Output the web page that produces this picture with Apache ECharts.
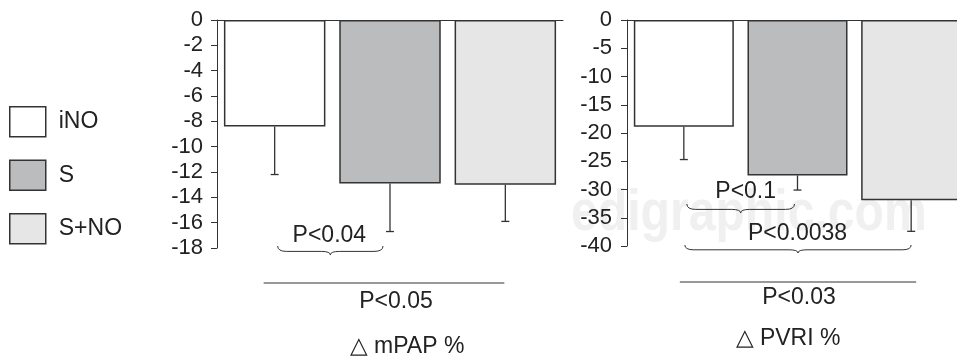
<!DOCTYPE html>
<html>
<head>
<meta charset="utf-8">
<script src="https://cdn.jsdelivr.net/npm/echarts@6/dist/echarts.min.js"></script>
<style>
  html, body { margin: 0; padding: 0; background: #fff; overflow: hidden; }
  /* a little wider than the window: the right panel runs off the edge in the original */
  #chart { width: 980px; height: 358px; }
</style>
</head>
<body>
<div id="chart"></div>
<script>
// --- data ---
const groups = ['iNO', 'S', 'S+NO'];

const mpapMean = [-8.4, -12.9, -13.0];
const mpapErr = [-12.2, -16.7, -15.9];
const mpapAxis = [-18, 0, 2]; // min, max, step
const mpapP = ['P<0.04', 'P<0.05'];
const mpapTitle = '\u25B3 mPAP %';

const pvriMean = [-18.9, -27.5, -31.9];
const pvriErr = [-24.7, -30.1, -37.4];
const pvriAxis = [-40, 0, 5];
const pvriP = ['P<0.1', 'P<0.0038', 'P<0.03'];
const pvriTitle = '\u25B3 PVRI %';

const watermark = 'edigraphic.com';

// --- style ---
const FONT = '"Liberation Sans", Arial, Helvetica, sans-serif';
const INK = '#333';
const TEXT = '#222';
const barColors = ['#ffffff', '#bbbcbe', '#e6e6e6'];

const chart = echarts.init(document.getElementById('chart'), null, { renderer: 'canvas' });

function xAxisFor(gridIndex) {
  return {
    type: 'category',
    gridIndex,
    position: 'top',
    data: groups,
    axisLine: { lineStyle: { color: INK, width: 1 } },
    axisTick: { alignWithLabel: true, length: 6, lineStyle: { color: INK } },
    axisLabel: { show: false },
    splitLine: { show: false },
  };
}

function yAxisFor(gridIndex, range, margin) {
  return {
    type: 'value',
    gridIndex,
    min: range[0],
    max: range[1],
    interval: range[2],
    axisLine: { show: true, lineStyle: { color: INK, width: 1 } },
    axisTick: { show: true, length: 6, lineStyle: { color: INK } },
    axisLabel: { color: TEXT, fontSize: 22, fontFamily: FONT, margin },
    splitLine: { show: false },
  };
}

function barSeries(gridIndex, means) {
  return groups.map((name, i) => ({
    name,
    type: 'bar',
    xAxisIndex: gridIndex,
    yAxisIndex: gridIndex,
    stack: 'grid' + gridIndex,
    barCategoryGap: '12%',
    data: groups.map((_, j) => (j === i ? means[j] : '-')),
    itemStyle: { color: barColors[i], borderColor: INK, borderWidth: 1.5 },
    emphasis: { disabled: true },
    z: 2,
  }));
}

function errorItem(params, api) {
  const top = api.coord([api.value(0), api.value(1)]);
  const end = api.coord([api.value(0), api.value(2)]);
  const style = { stroke: INK, lineWidth: 1.3 };
  return {
    type: 'group',
    children: [
      { type: 'line', shape: { x1: top[0], y1: top[1], x2: end[0], y2: end[1] }, style },
      { type: 'line', shape: { x1: end[0] - 4, y1: end[1], x2: end[0] + 4, y2: end[1] }, style },
    ],
  };
}

function errorSeries(gridIndex, means, errs) {
  return {
    type: 'custom',
    xAxisIndex: gridIndex,
    yAxisIndex: gridIndex,
    renderItem: errorItem,
    encode: { x: 0, y: [1, 2] },
    data: groups.map((_, i) => [i, means[i], errs[i]]),
    clip: false,
    silent: true,
    z: 3,
  };
}

chart.setOption({
  animation: false,
  backgroundColor: '#fff',
  textStyle: { fontFamily: FONT },
  legend: {
    orient: 'vertical',
    left: 9,
    top: 106,
    padding: 0,
    itemWidth: 36,
    itemHeight: 30,
    itemGap: 22,
    icon: 'rect',
    selectedMode: false,
    data: groups,
    itemStyle: { borderColor: INK, borderWidth: 1.5 },
    textStyle: { color: TEXT, fontSize: 23, fontFamily: FONT, padding: [0, 0, 0, 8] },
  },
  grid: [
    { left: 217, top: 20, width: 346, height: 228 },
    { left: 627, top: 20, width: 341, height: 226 },
  ],
  xAxis: [xAxisFor(0), xAxisFor(1)],
  yAxis: [yAxisFor(0, mpapAxis, 14), yAxisFor(1, pvriAxis, 15)],
  series: [
    ...barSeries(0, mpapMean),
    errorSeries(0, mpapMean, mpapErr),
    ...barSeries(1, pvriMean),
    errorSeries(1, pvriMean, pvriErr),
  ],
});

// --- annotations (braces, p-values, axis titles) placed from the axes ---
const cx = (g, i) => chart.convertToPixel({ xAxisIndex: g }, groups[i]);

function braceParts(x0, x1, y, h) {
  const m = (x0 + x1) / 2;
  const c = y + h * 0.6;
  const r = Math.min(9, (x1 - x0) / 8);
  const style = { stroke: INK, lineWidth: 1, fill: null };
  const curve = (a, b, cp) => ({
    type: 'bezierCurve',
    shape: { x1: a[0], y1: a[1], x2: b[0], y2: b[1], cpx1: cp[0], cpy1: cp[1] },
    style,
    z: 10,
  });
  const seg = (a, b) => ({
    type: 'line',
    shape: { x1: a[0], y1: a[1], x2: b[0], y2: b[1] },
    style,
    z: 10,
  });
  return [
    curve([x0, y], [x0 + r, c], [x0, c]),
    seg([x0 + r, c], [m - r, c]),
    curve([m - r, c], [m, y + h], [m, c]),
    curve([m, y + h], [m + r, c], [m, c]),
    seg([m + r, c], [x1 - r, c]),
    curve([x1 - r, c], [x1, y], [x1, c]),
  ];
}

function label(text, x, y, size) {
  return {
    type: 'text',
    x,
    y,
    z: 10,
    style: {
      text,
      fill: TEXT,
      font: (size || 23) + 'px ' + FONT,
      align: 'center',
      verticalAlign: 'middle',
    },
  };
}

function hline(x0, x1, y) {
  return {
    type: 'line',
    shape: { x1: x0, y1: y, x2: x1, y2: y },
    style: { stroke: INK, lineWidth: 1 },
    z: 10,
  };
}

const a0 = cx(0, 0), a1 = cx(0, 1), a2 = cx(0, 2);
const b0 = cx(1, 0), b1 = cx(1, 1), b2 = cx(1, 2);

const elements = [
  {
    type: 'text',
    x: 571,
    y: 214,
    scaleX: 0.83,
    z: -10,
    silent: true,
    style: {
      text: watermark,
      fill: '#f0f0f0',
      font: 'bold 58px ' + FONT,
      align: 'left',
      verticalAlign: 'middle',
    },
  },
  // mPAP panel
  ...braceParts(a0 + 3, a1 - 7, 246, 9),
  label(mpapP[0], (a0 + a1) / 2 - 3, 236),
  hline(a0 - 11, a2 - 1, 283),
  label(mpapP[1], 396, 302),
  label(mpapTitle, 407, 347),
  // PVRI panel
  ...braceParts(b0 + 3, b1 - 3, 204, 9),
  label(pvriP[0], (b0 + b1) / 2 + 5, 192),
  ...braceParts(b0 + 1, b2, 245, 8),
  label(pvriP[1], (b0 + b2) / 2, 234),
  hline(b0 - 4, b2 + 5, 282),
  label(pvriP[2], 799, 298),
  label(pvriTitle, 788, 339),
];

chart.setOption({ graphic: { elements } });
</script>
</body>
</html>
